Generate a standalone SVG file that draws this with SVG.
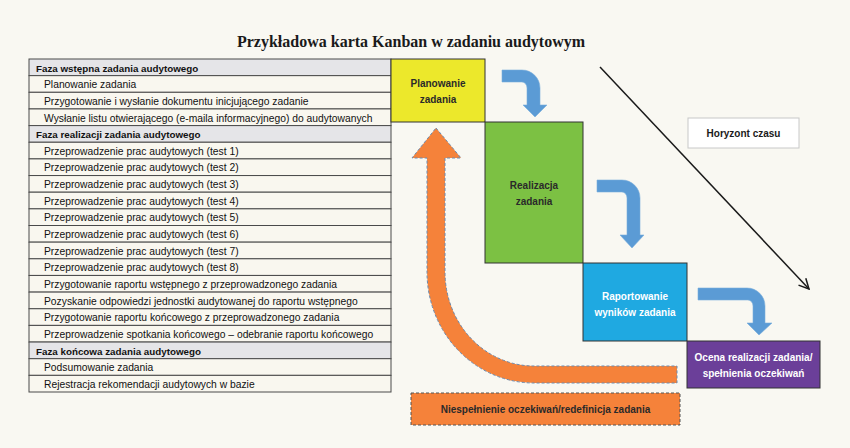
<svg xmlns="http://www.w3.org/2000/svg" width="850" height="448" viewBox="0 0 850 448">
<defs>
<style>
.bg{fill:#f9f8f2}
.hdr{fill:#e5e5e8;stroke:#4a4a4a;stroke-width:1}
.row{fill:#f9f7ef;stroke:#4a4a4a;stroke-width:1}
.ht{font-family:"Liberation Sans",Arial,sans-serif;font-size:9.8px;font-weight:bold;fill:#111}
.it{font-family:"Liberation Sans",Arial,sans-serif;font-size:10.3px;fill:#111}
.bt{font-family:"Liberation Sans",Arial,sans-serif;font-size:10px;font-weight:bold;text-anchor:middle}
.blue{fill:#5b9bd5;stroke:#7aaedc;stroke-width:0.6}
</style>
<marker id="ah" viewBox="0 0 12 12" refX="11" refY="6" markerWidth="12" markerHeight="12" markerUnits="userSpaceOnUse" orient="auto">
<path d="M1,1 L11,6 L1,11" fill="none" stroke="#1a1a1a" stroke-width="1.5"/>
</marker>
</defs>
<rect class="bg" x="0" y="0" width="850" height="448"/>
<text x="411" y="47" text-anchor="middle" font-family="Liberation Serif,Times New Roman,serif" font-weight="bold" font-size="16" fill="#1a1a1a">Przykładowa karta Kanban w zadaniu audytowym</text>

<g id="table">
<rect class="hdr" x="29" y="59" width="362" height="16.65"/>
<text class="ht" x="36" y="71.5">Faza wstępna zadania audytowego</text>
<rect class="row" x="29" y="75.65" width="362" height="16.65"/>
<text class="it" x="44" y="88.2">Planowanie zadania</text>
<rect class="row" x="29" y="92.3" width="362" height="16.65"/>
<text class="it" x="44" y="104.8">Przygotowanie i wysłanie dokumentu inicjującego zadanie</text>
<rect class="row" x="29" y="108.95" width="362" height="16.65"/>
<text class="it" x="44" y="121.5">Wysłanie listu otwierającego (e-maila informacyjnego) do audytowanych</text>
<rect class="hdr" x="29" y="125.6" width="362" height="16.65"/>
<text class="ht" x="36" y="138.1">Faza realizacji zadania audytowego</text>
<rect class="row" x="29" y="142.25" width="362" height="16.65"/>
<text class="it" x="44" y="154.8">Przeprowadzenie prac audytowych (test 1)</text>
<rect class="row" x="29" y="158.9" width="362" height="16.65"/>
<text class="it" x="44" y="171.4">Przeprowadzenie prac audytowych (test 2)</text>
<rect class="row" x="29" y="175.55" width="362" height="16.65"/>
<text class="it" x="44" y="188.1">Przeprowadzenie prac audytowych (test 3)</text>
<rect class="row" x="29" y="192.2" width="362" height="16.65"/>
<text class="it" x="44" y="204.7">Przeprowadzenie prac audytowych (test 4)</text>
<rect class="row" x="29" y="208.85" width="362" height="16.65"/>
<text class="it" x="44" y="221.4">Przeprowadzenie prac audytowych (test 5)</text>
<rect class="row" x="29" y="225.5" width="362" height="16.65"/>
<text class="it" x="44" y="238">Przeprowadzenie prac audytowych (test 6)</text>
<rect class="row" x="29" y="242.15" width="362" height="16.65"/>
<text class="it" x="44" y="254.7">Przeprowadzenie prac audytowych (test 7)</text>
<rect class="row" x="29" y="258.8" width="362" height="16.65"/>
<text class="it" x="44" y="271.3">Przeprowadzenie prac audytowych (test 8)</text>
<rect class="row" x="29" y="275.45" width="362" height="16.65"/>
<text class="it" x="44" y="288">Przygotowanie raportu wstępnego z przeprowadzonego zadania</text>
<rect class="row" x="29" y="292.1" width="362" height="16.65"/>
<text class="it" x="44" y="304.6">Pozyskanie odpowiedzi jednostki audytowanej do raportu wstępnego</text>
<rect class="row" x="29" y="308.75" width="362" height="16.65"/>
<text class="it" x="44" y="321.3">Przygotowanie raportu końcowego z przeprowadzonego zadania</text>
<rect class="row" x="29" y="325.4" width="362" height="16.65"/>
<text class="it" x="44" y="337.9">Przeprowadzenie spotkania końcowego – odebranie raportu końcowego</text>
<rect class="hdr" x="29" y="342.05" width="362" height="16.65"/>
<text class="ht" x="36" y="354.6">Faza końcowa zadania audytowego</text>
<rect class="row" x="29" y="358.7" width="362" height="16.65"/>
<text class="it" x="44" y="371.2">Podsumowanie zadania</text>
<rect class="row" x="29" y="375.35" width="362" height="16.65"/>
<text class="it" x="44" y="387.9">Rejestracja rekomendacji audytowych w bazie</text>
</g>

<g id="planowanie">
<rect x="391" y="59" width="94" height="63" fill="#ece82b" stroke="#333" stroke-width="1"/>
<text class="bt" x="438" y="86.5" fill="#2a2a2a">Planowanie</text>
<text class="bt" x="438" y="102.5" fill="#2a2a2a">zadania</text>
</g>
<g id="realizacja">
<rect x="485" y="122" width="98" height="141" fill="#7cc143" stroke="#333" stroke-width="1"/>
<text class="bt" x="534" y="188.5" fill="#2a2a2a">Realizacja</text>
<text class="bt" x="534" y="204.5" fill="#2a2a2a">zadania</text>
</g>
<g id="raportowanie">
<rect x="583" y="263" width="104" height="78" fill="#1fa9e1" stroke="#333" stroke-width="1"/>
<text class="bt" x="635" y="300" fill="#ffffff">Raportowanie</text>
<text class="bt" x="635" y="316" fill="#ffffff">wyników zadania</text>
</g>
<g id="ocena">
<rect x="687" y="341" width="133" height="47" fill="#6b3f99" stroke="#333" stroke-width="1"/>
<text class="bt" x="753.5" y="360.5" fill="#ffffff">Ocena realizacji zadania/</text>
<text class="bt" x="753.5" y="376.5" fill="#ffffff">spełnienia oczekiwań</text>
</g>
<g id="horyzont">
<rect x="688" y="118" width="111" height="30" fill="#ffffff" stroke="#c8c8c8" stroke-width="1"/>
<text class="bt" x="743.5" y="137" fill="#1a1a1a">Horyzont czasu</text>
</g>
<g id="niespelnienie">
<rect x="411" y="393" width="269" height="32" fill="#f5823a" stroke="#555" stroke-width="1" stroke-dasharray="3,2"/>
<text class="bt" x="545.5" y="413" fill="#2a2a2a">Niespełnienie oczekiwań/redefinicja zadania</text>
</g>

<g id="connectors">
<path class="blue" d="M502,70 H522 A18,18 0 0 1 540,88 V105 H547 L535,117 L523,105 H527 V88 A5,6 0 0 0 522,82 H502 Z"/>
<path class="blue" d="M597,180 H622 A18,18 0 0 1 640,198 V235 H644 L632,248 L620,235 H627 V198 A5,6 0 0 0 622,192 H597 Z"/>
<path class="blue" d="M698,288 H747 A18,18 0 0 1 765,306 V323 H772 L759,335 L747,323 H753 V306 A5,6 0 0 0 748,300 H698 Z"/>
<path d="M436,128 L461,158 H445 V272 A89,94 0 0 0 534,366 H677 V383 H534 A107,111 0 0 1 427,272 V158 H412 Z" fill="#f5823a" stroke="#6a8bb0" stroke-width="1" stroke-dasharray="3,2"/>
<line x1="600" y1="67" x2="809" y2="289" stroke="#1a1a1a" stroke-width="1.5" marker-end="url(#ah)"/>
</g>
</svg>
